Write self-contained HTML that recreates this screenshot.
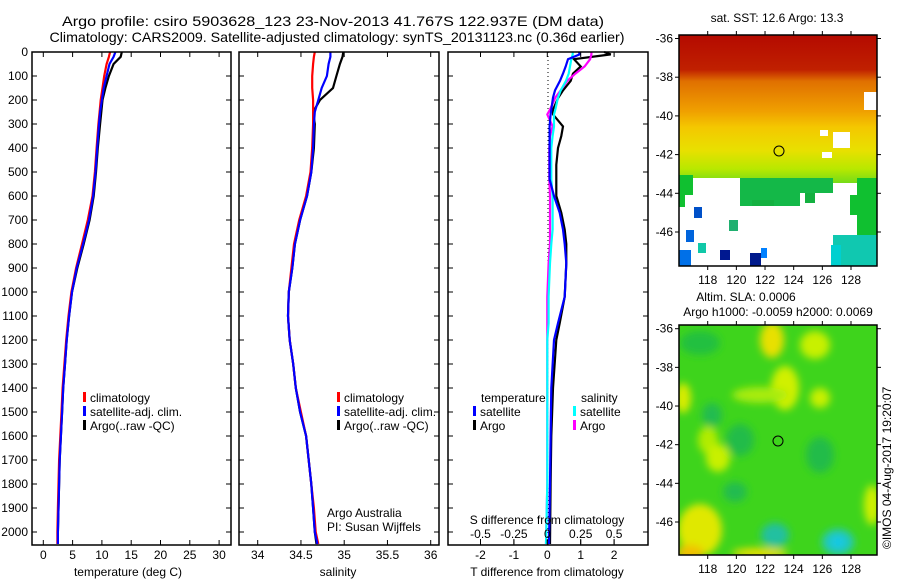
<!DOCTYPE html>
<html><head><meta charset="utf-8"><style>
html,body{margin:0;padding:0;background:#fff;}
svg{display:block;font-family:"Liberation Sans",sans-serif;}
</style></head><body>
<svg id="fig" width="900" height="580" viewBox="0 0 900 580" xmlns="http://www.w3.org/2000/svg">
<defs>
<linearGradient id="sstGrad" x1="0" y1="0" x2="0" y2="1">
<stop offset="0" stop-color="#b40a00"/>
<stop offset="0.15" stop-color="#c02000"/>
<stop offset="0.2" stop-color="#e07000"/>
<stop offset="0.33" stop-color="#f0a000"/>
<stop offset="0.4" stop-color="#f4c800"/>
<stop offset="0.5" stop-color="#e8e000"/>
<stop offset="0.58" stop-color="#b8e800"/>
<stop offset="0.66" stop-color="#60d820"/>
<stop offset="0.72" stop-color="#10c030"/>
<stop offset="1" stop-color="#10b848"/>
</linearGradient>
<filter id="blur4"><feGaussianBlur stdDeviation="4"/></filter>
<clipPath id="clipMap2"><rect x="679" y="325" width="198" height="230"/></clipPath>
</defs>
<g id="titles">
<text x="333" y="26" font-size="14" text-anchor="middle" textLength="542" lengthAdjust="spacingAndGlyphs">Argo profile: csiro 5903628_123 23-Nov-2013 41.767S 122.937E (DM data)</text>
<text x="337" y="42" font-size="14" text-anchor="middle" textLength="575" lengthAdjust="spacingAndGlyphs">Climatology: CARS2009. Satellite-adjusted climatology: synTS_20131123.nc (0.36d earlier)</text>
</g>
<g id="g1"></g>
<g id="g2"></g>
<g id="g3"></g>

<g>
<text x="777" y="22" font-size="12" text-anchor="middle">sat. SST: 12.6 Argo: 13.3</text>
<rect x="679" y="35" width="198" height="231" fill="url(#sstGrad)"/>
<g>
<rect x="679" y="183" width="198" height="83" fill="#fff"/>
<rect x="679" y="175" width="14" height="20" fill="#10c030"/>
<rect x="679" y="195" width="6" height="12" fill="#10c030"/>
<rect x="693" y="178" width="47" height="10" fill="#fff"/>
<rect x="740" y="178" width="60" height="28" fill="#14b848"/>
<rect x="752" y="200" width="22" height="6" fill="#14b040"/>
<rect x="800" y="178" width="33" height="15" fill="#14b848"/>
<rect x="805" y="193" width="10" height="10" fill="#14b040"/>
<rect x="857" y="178" width="20" height="60" fill="#10c030"/>
<rect x="850" y="195" width="8" height="20" fill="#10c030"/>
<rect x="833" y="235" width="44" height="31" fill="#10c8b0"/>
<rect x="831" y="245" width="10" height="21" fill="#00d0d0"/>
<rect x="864" y="92" width="13" height="18" fill="#fff"/>
<rect x="833" y="132" width="17" height="16" fill="#fff"/>
<rect x="820" y="130" width="8" height="6" fill="#fff"/>
<rect x="822" y="152" width="10" height="6" fill="#fff"/>
<rect x="694" y="207" width="8" height="11" fill="#0050c8"/>
<rect x="686" y="230" width="8" height="12" fill="#0064dc"/>
<rect x="698" y="243" width="8" height="10" fill="#10c8a8"/>
<rect x="679" y="250" width="12" height="16" fill="#0070e8"/>
<rect x="720" y="250" width="10" height="10" fill="#001890"/>
<rect x="750" y="253" width="11" height="13" fill="#001a8c"/>
<rect x="761" y="248" width="6" height="10" fill="#0080ff"/>
<rect x="729" y="220" width="9" height="11" fill="#20b070"/>
</g>
<circle cx="779" cy="151" r="5" fill="none" stroke="#000" stroke-width="1"/>
<rect x="679" y="35" width="198" height="231" fill="none" stroke="#000" stroke-width="1.5"/>
<g id="m1ticks"></g>
</g>

<g>
<text x="746" y="301" font-size="12" text-anchor="middle">Altim. SLA: 0.0006</text>
<text x="778" y="316" font-size="12" text-anchor="middle">Argo h1000: -0.0059 h2000: 0.0069</text>
<rect x="679" y="325" width="198" height="230" fill="#3ed41c"/>
<g clip-path="url(#clipMap2)" filter="url(#blur4)">
<ellipse cx="772" cy="340" rx="12" ry="18" fill="#e8e000"/>
<ellipse cx="815" cy="345" rx="15" ry="14" fill="#c8f000"/>
<ellipse cx="785" cy="388" rx="14" ry="22" fill="#d0f000"/>
<ellipse cx="760" cy="395" rx="28" ry="8" fill="#a8ec10"/>
<ellipse cx="683" cy="398" rx="8" ry="15" fill="#d8ec00"/>
<ellipse cx="708" cy="440" rx="10" ry="14" fill="#b0ec00"/>
<ellipse cx="718" cy="458" rx="12" ry="14" fill="#c8f000"/>
<ellipse cx="820" cy="398" rx="10" ry="10" fill="#c8f000"/>
<ellipse cx="700" cy="530" rx="22" ry="26" fill="#e0e800"/>
<ellipse cx="690" cy="553" rx="14" ry="8" fill="#f0c000"/>
<ellipse cx="760" cy="553" rx="28" ry="5" fill="#f0e000"/>
<ellipse cx="872" cy="505" rx="8" ry="20" fill="#d0f000"/>
<ellipse cx="700" cy="343" rx="20" ry="12" fill="#20c040"/>
<ellipse cx="740" cy="440" rx="14" ry="16" fill="#20bc48"/>
<ellipse cx="820" cy="455" rx="14" ry="18" fill="#20bc48"/>
<ellipse cx="712" cy="415" rx="10" ry="12" fill="#20bc50"/>
<ellipse cx="775" cy="535" rx="14" ry="12" fill="#20c0a0"/>
<ellipse cx="838" cy="542" rx="16" ry="13" fill="#20c8c0"/>
<ellipse cx="838" cy="542" rx="6" ry="5" fill="#10c8f0"/>
<ellipse cx="735" cy="492" rx="12" ry="10" fill="#20bc50"/>
</g>
<circle cx="778" cy="441" r="5" fill="none" stroke="#000" stroke-width="1"/>
<rect x="679" y="325" width="198" height="230" fill="none" stroke="#000" stroke-width="1.5"/>
<g id="m2ticks"></g>
</g>
<text transform="translate(891,549) rotate(-90)" font-size="12">©IMOS 04-Aug-2017 19:20:07</text>
</svg>
<script>
// ---- profile data ----
const depths = [0,20,50,100,150,200,250,300,400,500,600,700,800,900,1000,1100,1200,1300,1400,1500,1600,1700,1800,1900,2000,2050];
const tempArgo = [13.4,13.2,12.0,11.2,10.6,10.1,9.9,9.7,9.3,9.0,8.6,7.9,6.9,5.8,4.9,4.4,4.0,3.7,3.4,3.2,3.0,2.8,2.7,2.6,2.5,2.5];
const tempClim = [11.4,11.2,10.8,10.4,10.1,9.8,9.6,9.4,9.1,8.8,8.4,7.6,6.6,5.6,4.8,4.3,3.9,3.6,3.3,3.1,2.9,2.7,2.6,2.5,2.4,2.4];
const tempSat = [12.3,12.0,11.3,10.8,10.3,10.0,9.7,9.5,9.2,8.9,8.5,7.8,6.8,5.7,4.9,4.4,4.0,3.7,3.4,3.2,3.0,2.8,2.7,2.6,2.5,2.5];
const salArgo = [34.99,34.98,34.95,34.91,34.87,34.72,34.64,34.66,34.65,34.62,34.57,34.49,34.43,34.40,34.36,34.35,34.37,34.41,34.44,34.49,34.56,34.59,34.62,34.64,34.66,34.68];
const salClim = [34.66,34.65,34.64,34.63,34.63,34.64,34.64,34.64,34.63,34.61,34.56,34.48,34.42,34.39,34.36,34.35,34.37,34.41,34.44,34.50,34.56,34.59,34.62,34.65,34.67,34.70];
const salSat = [34.84,34.84,34.82,34.80,34.74,34.70,34.66,34.65,34.64,34.62,34.57,34.49,34.43,34.40,34.36,34.35,34.37,34.41,34.44,34.49,34.56,34.59,34.62,34.64,34.66,34.69];
const diffDepths = [0,10,30,60,90,120,160,190,240,260,310,350,400,470,530,600,670,740,800,880,1020,1130,1200,1400,1600,1800,2050];
const tDiffArgo = [1.7,1.9,0.8,1.0,0.77,0.7,0.47,0.33,0.17,0.17,0.47,0.42,0.32,0.27,0.27,0.27,0.42,0.52,0.57,0.57,0.52,0.37,0.27,0.17,0.12,0.1,0.08];
const tDiffSat = [0.95,0.97,0.62,0.55,0.47,0.38,0.23,0.17,0.12,0.1,0.07,0.07,0.07,0.07,0.07,0.2,0.37,0.47,0.52,0.57,0.52,0.32,0.2,0.12,0.1,0.08,0.05];
const sDiffArgo = [0.33,0.33,0.32,0.28,0.21,0.15,0.10,0.06,0.02,0.0,0.04,0.02,0.015,0.015,0.015,0.02,0.02,0.02,0.02,0.01,0.0,0.0,0.0,0.0,0.0,0.0,-0.01];
const sDiffSat = [0.19,0.19,0.18,0.17,0.16,0.14,0.10,0.08,0.06,0.05,0.05,0.04,0.03,0.03,0.03,0.04,0.04,0.04,0.03,0.02,0.01,0.01,0.0,0.0,0.0,0.0,-0.01];
const depthTicks = [0,100,200,300,400,500,600,700,800,900,1000,1100,1200,1300,1400,1500,1600,1700,1800,1900,2000];
const tempTicks = [0,5,10,15,20,25,30];
const salTicks = [34,34.5,35,35.5,36];
const salTickLabels = ["34","34.5","35","35.5","36"];
const tDiffTicks = [-2,-1,0,1,2];
const sDiffTicks = [-0.5,-0.25,0,0.25,0.5];
const sDiffTickLabels = ["-0.5","-0.25","0","0.25","0.5"];
const lonTicks = [118,120,122,124,126,128];
const latTicks1 = [-36,-38,-40,-42,-44,-46];

const NS = "http://www.w3.org/2000/svg";
const TOP = 52, BOT = 545;
const yD = d => TOP + d * 0.24;
function mk(tag, attrs, parent, txt) {
  const e = document.createElementNS(NS, tag);
  for (const k in attrs) e.setAttribute(k, attrs[k]);
  if (txt !== undefined) e.textContent = txt;
  parent.appendChild(e);
  return e;
}
function frame(g, x0, x1, name) {
  const r = mk('rect', {x:x0, y:TOP, width:x1-x0, height:BOT-TOP, fill:'none', stroke:'#000', 'stroke-width':1.5}, g);
  
  
}
function depthAxis(g, x0, x1, labels) {
  depthTicks.forEach(d => {
    const y = yD(d);
    mk('line', {x1:x0, y1:y, x2:x0+5, y2:y, stroke:'#000'}, g);
    mk('line', {x1:x1, y1:y, x2:x1-5, y2:y, stroke:'#000'}, g);
    if (labels) {
      const t = mk('text', {x:28, y:y+4, 'font-size':12, 'text-anchor':'end'}, g, String(d));
      
      
    }
  });
}
function xAxis(g, ticks, labels, sx, ly) {
  ticks.forEach((v, i) => {
    const x = sx(v);
    mk('line', {x1:x, y1:BOT, x2:x, y2:BOT-5, stroke:'#000'}, g);
    mk('line', {x1:x, y1:TOP, x2:x, y2:TOP+5, stroke:'#000'}, g);
    const t = mk('text', {x:x, y:ly, 'font-size':12, 'text-anchor':'middle'}, g, labels[i]);
    
    
  });
}
function line(g, xs, ds, sx, color, name, w) {
  const pts = xs.map((v, i) => sx(v).toFixed(1) + ',' + yD(ds[i]).toFixed(1)).join(' ');
  const p = mk('polyline', {points:pts, fill:'none', stroke:color, 'stroke-width':w||2.2, 'stroke-linejoin':'miter'}, g);
  
  
}
function legend(g, x, y, color, label, name) {
  const r = mk('rect', {x:x, y:y-6, width:3, height:10, fill:color}, g);
  
  
  const t = mk('text', {x:x+7, y:y+4, 'font-size':12}, g, label);
  
  
}

// Panel 1: temperature
const g1 = document.getElementById('g1');
const sxT = v => 43.3 + v * 5.86;
line(g1, tempArgo, depths, sxT, '#000', 'argo-temperature-line');
line(g1, tempClim, depths, sxT, '#f00', 'clim-temperature-line');
line(g1, tempSat, depths, sxT, '#00f', 'sat-temperature-line');
frame(g1, 32, 231, 'temperature-axes-frame');
depthAxis(g1, 32, 231, true);
xAxis(g1, tempTicks, tempTicks.map(String), sxT, 559);
let tt = mk('text', {x:128, y:576, 'font-size':12, 'text-anchor':'middle'}, g1, 'temperature (deg C)');


legend(g1, 83, 398, '#f00', 'climatology', 'legend-climatology');
legend(g1, 83, 412, '#00f', 'satellite-adj. clim.', 'legend-satellite-adj');
legend(g1, 83, 426, '#000', 'Argo(..raw -QC)', 'legend-argo');

// Panel 2: salinity
const g2 = document.getElementById('g2');
const sxS = v => 257.7 + (v - 34) * 86.5;
line(g2, salArgo, depths, sxS, '#000', 'argo-salinity-line');
line(g2, salClim, depths, sxS, '#f00', 'clim-salinity-line');
line(g2, salSat, depths, sxS, '#00f', 'sat-salinity-line');
frame(g2, 239, 439, 'salinity-axes-frame');
depthAxis(g2, 239, 439, false);
xAxis(g2, salTicks, salTickLabels, sxS, 559);
tt = mk('text', {x:338, y:576, 'font-size':12, 'text-anchor':'middle'}, g2, 'salinity');


legend(g2, 337, 398, '#f00', 'climatology', 'legend-climatology');
legend(g2, 337, 412, '#00f', 'satellite-adj. clim.', 'legend-satellite-adj');
legend(g2, 337, 426, '#000', 'Argo(..raw -QC)', 'legend-argo');
tt = mk('text', {x:327, y:517, 'font-size':12}, g2, 'Argo Australia');


tt = mk('text', {x:327, y:531, 'font-size':12}, g2, 'PI: Susan Wijffels');



// Panel 3: differences
const g3 = document.getElementById('g3');
const sxTD = v => 547.3 + v * 33.4;
const sxSD = v => 547.3 + v * 133.6;
const zl = mk('line', {x1:548, y1:TOP, x2:548, y2:BOT, stroke:'#000', 'stroke-dasharray':'1,3'}, g3);


line(g3, tDiffArgo, diffDepths, sxTD, '#000', 'argo-temp-diff-line');
line(g3, sDiffArgo, diffDepths, sxSD, '#f0f', 'argo-sal-diff-line');
line(g3, sDiffSat, diffDepths, sxSD, '#0ff', 'sat-sal-diff-line');
line(g3, tDiffSat, diffDepths, sxTD, '#00f', 'sat-temp-diff-line');
frame(g3, 448, 648, 'difference-axes-frame');
depthAxis(g3, 448, 648, false);
tDiffTicks.forEach(v => {
  const x = sxTD(v);
  mk('line', {x1:x, y1:BOT, x2:x, y2:BOT-5, stroke:'#000'}, g3);
  const t = mk('text', {x:x, y:559, 'font-size':12, 'text-anchor':'middle'}, g3, String(v));
  
  
});
sDiffTicks.forEach((v, i) => {
  const x = sxSD(v);
  mk('line', {x1:x, y1:TOP, x2:x, y2:TOP+5, stroke:'#000'}, g3);
  mk('line', {x1:x, y1:539, x2:x, y2:544, stroke:'#000'}, g3);
  const t = mk('text', {x:x, y:538, 'font-size':12, 'text-anchor':'middle'}, g3, sDiffTickLabels[i]);
  
  
});
tt = mk('text', {x:547, y:524, 'font-size':12, 'text-anchor':'middle'}, g3, 'S difference from climatology');


tt = mk('text', {x:547, y:576, 'font-size':12, 'text-anchor':'middle'}, g3, 'T difference from climatology');


tt = mk('text', {x:481, y:402, 'font-size':12}, g3, 'temperature');


legend(g3, 473, 412, '#00f', 'satellite', 'legend-temp-satellite');
legend(g3, 473, 426, '#000', 'Argo', 'legend-temp-argo');
tt = mk('text', {x:581, y:402, 'font-size':12}, g3, 'salinity');


legend(g3, 573, 412, '#0ff', 'satellite', 'legend-sal-satellite');
legend(g3, 573, 426, '#f0f', 'Argo', 'legend-sal-argo');

// Map ticks
function mapTicks(id, top, bot, latY) {
  const g = document.getElementById(id);
  const lx = v => 707.7 + (v - 118) * 14.33;
  lonTicks.forEach(v => {
    const x = lx(v);
    mk('line', {x1:x, y1:top, x2:x, y2:top-4, stroke:'#000'}, g);
    mk('line', {x1:x, y1:bot, x2:x, y2:bot+4, stroke:'#000'}, g);
    const t = mk('text', {x:x, y:bot+18, 'font-size':12, 'text-anchor':'middle'}, g, String(v));
    
    
  });
  latTicks1.forEach(v => {
    const y = latY(v);
    mk('line', {x1:679, y1:y, x2:675, y2:y, stroke:'#000'}, g);
    mk('line', {x1:877, y1:y, x2:881, y2:y, stroke:'#000'}, g);
    const t = mk('text', {x:673, y:y+4, 'font-size':12, 'text-anchor':'end'}, g, String(v));
    
    
  });
}
mapTicks('m1ticks', 35, 266, v => 38.5 + (-36 - v) * 19.35);
mapTicks('m2ticks', 325, 555, v => 328.7 + (-36 - v) * 19.33);
</script>
</body></html>
